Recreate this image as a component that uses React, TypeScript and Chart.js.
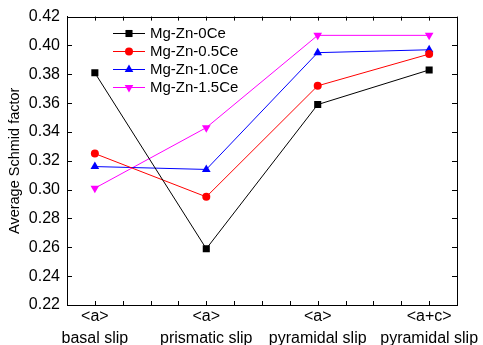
import React, { useEffect, useRef } from "react";
import { Chart, registerables } from "chart.js";

Chart.register(...registerables);

const categories: string[][] = [
  ["<a>", "basal slip"],
  ["<a>", "prismatic slip"],
  ["<a>", "pyramidal slip"],
  ["<a+c>", "pyramidal slip"],
];
const seriesNames = ["Mg-Zn-0Ce", "Mg-Zn-0.5Ce", "Mg-Zn-1.0Ce", "Mg-Zn-1.5Ce"];
const ce0 = [0.381, 0.259, 0.359, 0.383];
const ce05 = [0.325, 0.295, 0.372, 0.394];
const ce10 = [0.316, 0.314, 0.395, 0.397];
const ce15 = [0.301, 0.343, 0.407, 0.407];
const yTicks = [0.22, 0.24, 0.26, 0.28, 0.3, 0.32, 0.34, 0.36, 0.38, 0.4, 0.42];

const colors = ["#000000", "#ff0000", "#0000ff", "#ff00ff"];
const styles: any[] = ["rect", "circle", "triangle", "triangle"];
const rotations = [0, 0, 0, 180];
const radii = [5, 4, 5, 5];

const FONT = "'Liberation Sans', Arial, sans-serif";

function drawMarker(ctx: CanvasRenderingContext2D, style: string, x: number, y: number, r: number, rot: number, color: string) {
  ctx.save();
  ctx.fillStyle = color;
  ctx.translate(x, y);
  ctx.rotate((rot * Math.PI) / 180);
  ctx.beginPath();
  if (style === "rect") {
    const s = r * Math.SQRT1_2;
    ctx.rect(-s, -s, 2 * s, 2 * s);
  } else if (style === "circle") {
    ctx.arc(0, 0, r, 0, Math.PI * 2);
  } else {
    const h = r;
    ctx.moveTo(0, -h);
    ctx.lineTo(h * Math.cos(Math.PI / 6), h * 0.5);
    ctx.lineTo(-h * Math.cos(Math.PI / 6), h * 0.5);
    ctx.closePath();
  }
  ctx.fill();
  ctx.restore();
}

const framePlugin = {
  id: "frame",
  afterDraw(chart: any) {
    const { ctx, chartArea } = chart;
    const { left, right, top, bottom } = chartArea;
    const xs = chart.scales.x;
    const ys = chart.scales.y;
    ctx.save();
    ctx.strokeStyle = "#000";
    ctx.lineWidth = 1;
    ctx.strokeRect(Math.round(left) + 0.5, Math.round(top) + 0.5, Math.round(right - left), Math.round(bottom - top));
    ctx.beginPath();
    for (let v = -0.25; v <= 3.25 + 1e-9; v += 0.25) {
      const px = Math.round(xs.getPixelForValue(v)) + 0.5;
      ctx.moveTo(px, bottom);
      ctx.lineTo(px, bottom - 4);
      ctx.moveTo(px, top);
      ctx.lineTo(px, top + 4);
    }
    for (const t of yTicks) {
      const py = Math.round(ys.getPixelForValue(t)) + 0.5;
      ctx.moveTo(left, py);
      ctx.lineTo(left + 5, py);
      ctx.moveTo(right, py);
      ctx.lineTo(right - 5, py);
    }
    ctx.stroke();

    // legend
    const lx0 = 113;
    const lx1 = 145;
    const rowY = [33, 51, 69, 87];
    ctx.font = `15px ${FONT}`;
    ctx.textBaseline = "middle";
    ctx.textAlign = "left";
    chart.data.datasets.forEach((ds: any, i: number) => {
      const y = rowY[i];
      ctx.strokeStyle = ds.borderColor;
      ctx.lineWidth = 1;
      ctx.beginPath();
      ctx.moveTo(lx0, y + 0.5);
      ctx.lineTo(lx1, y + 0.5);
      ctx.stroke();
      drawMarker(ctx, ds.pointStyle, (lx0 + lx1) / 2, y + 0.5, ds.pointRadius, ds.pointRotation, ds.backgroundColor);
      ctx.fillStyle = "#000";
      ctx.fillText(ds.label, 150, y + 1);
    });
    ctx.restore();
  },
};

export default function App() {
  const ref = useRef<HTMLCanvasElement>(null);
  useEffect(() => {
    document.body.style.margin = "0";
    const all = [ce0, ce05, ce10, ce15];
    const chart = new Chart(ref.current!, {
      type: "line",
      data: {
        datasets: all.map((arr, i) => ({
          label: seriesNames[i],
          data: arr.map((v, j) => ({ x: j, y: v })),
          borderColor: colors[i],
          backgroundColor: colors[i],
          borderWidth: 1,
          pointStyle: styles[i],
          pointRotation: rotations[i],
          pointRadius: radii[i],
          pointBorderWidth: 0,
          pointBackgroundColor: colors[i],
          tension: 0,
        })),
      },
      options: {
        animation: false,
        responsive: false,
        maintainAspectRatio: false,
        layout: { padding: { left: 0, right: 26, top: 15, bottom: 0 } },
        plugins: { legend: { display: false }, tooltip: { enabled: false } },
        scales: {
          x: {
            type: "linear",
            min: -0.25,
            max: 3.25,
            afterFit: (s: any) => {
              s.height = 40;
            },
            afterBuildTicks: (s: any) => {
              s.ticks = [0, 1, 2, 3].map((v) => ({ value: v }));
            },
            grid: { display: false, drawTicks: false },
            border: { display: true, color: "#000", width: 1 },
            ticks: {
              autoSkip: false,
              maxRotation: 0,
              padding: 1,
              color: "#000",
              font: { family: FONT, size: 16, lineHeight: 1.35 },
              callback: (v: any) => {
                const n = Number(v);
                return Number.isInteger(n) && categories[n] ? categories[n] : "";
              },
            },
          },
          y: {
            min: 0.22,
            max: 0.42,
            afterFit: (s: any) => {
              s.width = 67;
            },
            afterBuildTicks: (s: any) => {
              s.ticks = yTicks.map((v) => ({ value: v }));
            },
            grid: { display: false, drawTicks: false },
            border: { display: true, color: "#000", width: 1 },
            ticks: {
              padding: 7,
              color: "#000",
              font: { family: FONT, size: 16 },
              callback: (v: any) => Number(v).toFixed(2),
            },
            title: {
              display: true,
              text: "Average Schmid factor",
              color: "#000",
              font: { family: FONT, size: 14.5 },
              padding: { top: 6, bottom: 0 },
            },
          },
        },
      },
      plugins: [framePlugin],
    } as any);
    return () => chart.destroy();
  }, []);
  return <canvas ref={ref} width={483} height={345} style={{ display: "block" }} />;
}
